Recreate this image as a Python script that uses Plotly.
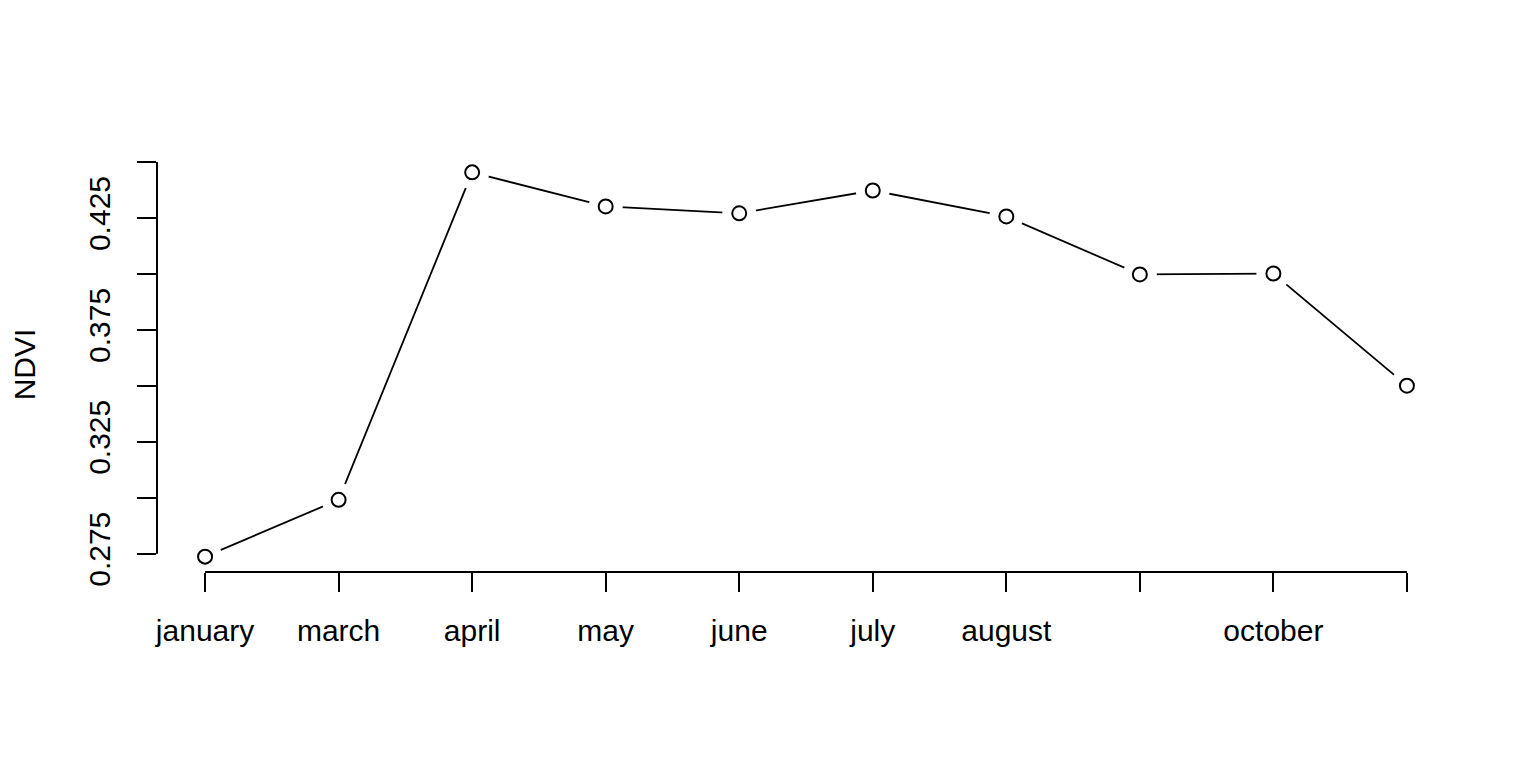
import plotly.graph_objects as go

months = ["january", "march", "april", "may", "june", "july", "august",
          "september", "october", "november"]
tick_labels = ["january", "march", "april", "may", "june", "july", "august",
               "", "october", ""]
ndvi = [0.2737, 0.2991, 0.4454, 0.4302, 0.4271, 0.4373, 0.4257, 0.3998, 0.4002, 0.3501]
y_ticks = [0.275, 0.300, 0.325, 0.350, 0.375, 0.400, 0.425, 0.450]
y_tick_labels = ["0.275", "", "0.325", "", "0.375", "", "0.425", ""]

x = list(range(1, len(months) + 1))
FONT = "Liberation Sans, Arial, Helvetica, sans-serif"

ymin, ymax = min(ndvi), max(ndvi)
ypad = 0.04 * (ymax - ymin)
xpad = 0.04 * (x[-1] - x[0])

fig = go.Figure()
fig.add_trace(go.Scatter(x=x, y=ndvi, mode="lines", line=dict(color="black", width=1.8),
                         hoverinfo="skip", showlegend=False))
fig.add_trace(go.Scatter(x=x, y=ndvi, mode="markers",
                         marker=dict(symbol="circle", size=34, color="white", line=dict(width=0)),
                         hoverinfo="skip", showlegend=False))
fig.add_trace(go.Scatter(x=x, y=ndvi, mode="markers", text=months,
                         marker=dict(symbol="circle-open", size=14, color="black", line=dict(width=2)),
                         showlegend=False))

# axis lines spanning first to last tick (R style)
fig.add_shape(type="line", xref="x", yref="paper", x0=x[0], x1=x[-1], y0=0, y1=0,
              line=dict(color="black", width=2), layer="above")
fig.add_shape(type="line", xref="paper", yref="y", x0=0, x1=0, y0=y_ticks[0], y1=y_ticks[-1],
              line=dict(color="black", width=2), layer="above")

fig.update_layout(
    width=1528, height=760,
    margin=dict(l=149, r=81, t=149, b=196),
    paper_bgcolor="white", plot_bgcolor="white",
    font=dict(family=FONT, size=30, color="black"),
    xaxis=dict(range=[x[0] - xpad, x[-1] + xpad], tickvals=x, ticktext=tick_labels,
               ticks="outside", ticklen=19, tickwidth=2, tickcolor="black",
               showline=False, showgrid=False, zeroline=False,
               ticklabelstandoff=13, tickfont=dict(size=30)),
    yaxis=dict(range=[ymin - ypad, ymax + ypad], tickvals=y_ticks, ticktext=y_tick_labels,
               ticks="outside", ticklen=19, tickwidth=2, tickcolor="black",
               showline=False, showgrid=False, zeroline=False, tickangle=-90,
               ticklabelstandoff=15, tickfont=dict(size=30),
               title=dict(text="NDVI", font=dict(size=30), standoff=40)),
)

fig.write_html("out.html")
